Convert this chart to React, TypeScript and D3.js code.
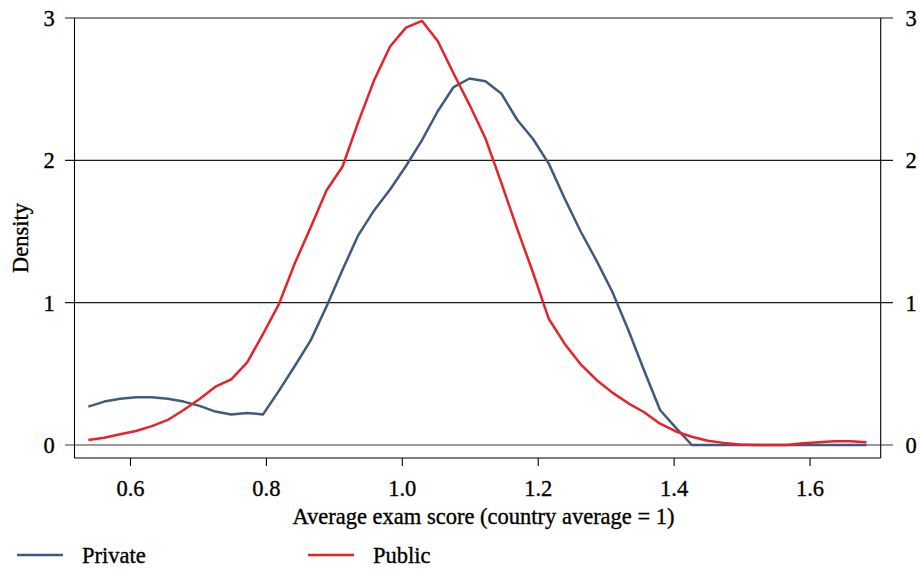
import React from "react";
import * as d3 from "d3";

const scores = [
  0.538, 0.5614, 0.5847, 0.6081, 0.6315, 0.6549, 0.6782, 0.7016, 0.725, 0.7483,
  0.7717, 0.7951, 0.8184, 0.8418, 0.8652, 0.8886, 0.9119, 0.9353, 0.9587, 0.982,
  1.0054, 1.0288, 1.0521, 1.0755, 1.0989, 1.1223, 1.1456, 1.169, 1.1924, 1.2157,
  1.2391, 1.2625, 1.2858, 1.3092, 1.3326, 1.356, 1.3793, 1.4027, 1.4261, 1.4494,
  1.4728, 1.4962, 1.5195, 1.5429, 1.5663, 1.5897, 1.613, 1.6364, 1.6598, 1.6831,
];

const privateDensity = [
  0.27, 0.305, 0.325, 0.335, 0.335, 0.325, 0.305, 0.275, 0.235, 0.215,
  0.225, 0.215, 0.38, 0.555, 0.735, 0.975, 1.23, 1.475, 1.65, 1.795,
  1.96, 2.14, 2.345, 2.515, 2.575, 2.555, 2.47, 2.285, 2.15, 1.975,
  1.73, 1.5, 1.295, 1.075, 0.808, 0.522, 0.246, 0.12, 0, 0,
  0, 0, 0, 0, 0, 0, 0, 0, 0, 0,
];

const publicDensity = [
  0.035, 0.051, 0.075, 0.098, 0.133, 0.176, 0.246, 0.323, 0.41, 0.461,
  0.58, 0.78, 0.99, 1.277, 1.53, 1.79, 1.955, 2.27, 2.565, 2.8,
  2.932, 2.98, 2.838, 2.61, 2.39, 2.155, 1.843, 1.52, 1.21, 0.885,
  0.71, 0.567, 0.457, 0.368, 0.293, 0.23, 0.15, 0.095, 0.058, 0.03,
  0.015, 0.003, 0, 0, 0, 0.012, 0.02, 0.027, 0.027, 0.02,
];

const xTicks = [0.6, 0.8, 1.0, 1.2, 1.4, 1.6];
const yTicks = [0, 1, 2, 3];
const seriesNames = ["Private", "Public"];
const seriesColors = ["#3f5a7c", "#e8222a"];

const W = 920;
const H = 569;
const left = 74.5;
const right = 880.7;
const top = 18;
const bottom = 458;
const FONT = "'Liberation Serif', 'Times New Roman', serif";
const FS = 22.5;
const textStyle = {
  fontFamily: FONT,
  fontSize: FS,
  fill: "#000",
  stroke: "#000",
  strokeWidth: 0.35,
} as React.CSSProperties;

export default function App() {
  const x = d3.scaleLinear().domain([0.5176, 1.704]).range([left, right]);
  const y = d3.scaleLinear().domain([-0.0913, 3]).range([bottom, top]);
  const line = d3
    .line<number>()
    .x((_, i) => x(scores[i]))
    .y((d) => y(d));
  const series = [privateDensity, publicDensity];

  return (
    <svg
      width={W}
      height={H}
      style={{ position: "absolute", left: 0, top: 0, background: "#fff" }}
    >
      <rect width={W} height={H} fill="#fff" />
      {yTicks.map((t) => (
        <g key={t}>
          <line
            x1={65}
            x2={893}
            y1={y(t)}
            y2={y(t)}
            stroke={t === 0 ? "#7a7a7a" : "#1a1a1a"}
            strokeWidth={t === 0 ? 1.6 : 1.1}
          />
          <text x={49} y={y(t)} dy="0.35em" textAnchor="middle" style={textStyle}>
            {t}
          </text>
          <text x={911} y={y(t)} dy="0.35em" textAnchor="middle" style={textStyle}>
            {t}
          </text>
        </g>
      ))}
      <line x1={left} x2={left} y1={top} y2={bottom} stroke="#000" strokeWidth={1.1} />
      <line x1={right} x2={right} y1={top} y2={bottom} stroke="#000" strokeWidth={1.1} />
      <line x1={left} x2={right} y1={bottom} y2={bottom} stroke="#000" strokeWidth={1.1} />
      {xTicks.map((t) => (
        <g key={t}>
          <line x1={x(t)} x2={x(t)} y1={bottom} y2={bottom + 8} stroke="#000" strokeWidth={1.1} />
          <text x={x(t)} y={496} textAnchor="middle" style={textStyle}>
            {t.toFixed(1)}
          </text>
        </g>
      ))}
      {series.map((s, i) => (
        <path
          key={i}
          d={line(s) || ""}
          fill="none"
          stroke={seriesColors[i]}
          strokeWidth={2.5}
          strokeLinejoin="round"
        />
      ))}
      <text x={483.5} y={524} textAnchor="middle" style={textStyle}>
        Average exam score (country average = 1)
      </text>
      <text transform={`translate(28, 238) rotate(-90)`} textAnchor="middle" style={textStyle}>
        Density
      </text>
      {seriesNames.map((n, i) => {
        const lx = i === 0 ? 17 : 308;
        return (
          <g key={n}>
            <line x1={lx} x2={lx + 46} y1={555} y2={555} stroke={seriesColors[i]} strokeWidth={2.5} />
            <text x={lx + 65} y={563} style={textStyle}>
              {n}
            </text>
          </g>
        );
      })}
    </svg>
  );
}
